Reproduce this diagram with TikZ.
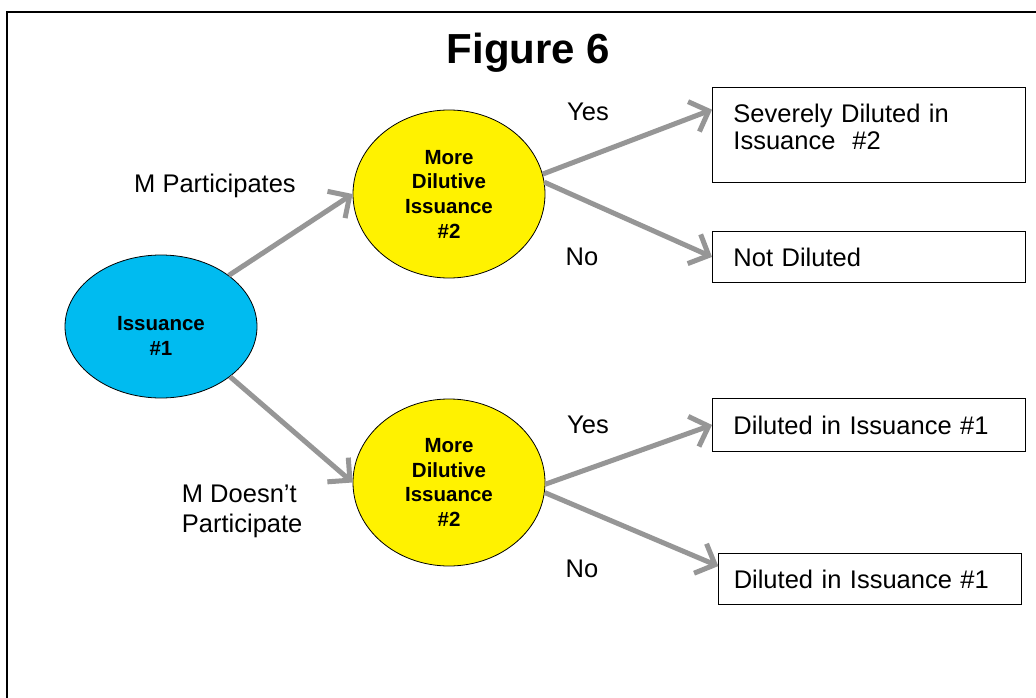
\documentclass[tikz,border=0pt]{standalone}
\usepackage{fontspec}
\setmainfont{Liberation Sans}
\usetikzlibrary{shapes.geometric,arrows.meta,positioning,calc}
\definecolor{issueblue}{RGB}{0,187,240}
\definecolor{arrowgray}{RGB}{150,150,150}

\tikzset{
  issue/.style={draw, ellipse, line width=0.8pt, minimum width=192pt, inner sep=0pt, align=center, font=\fontsize{20.5}{24.7}\selectfont\bfseries},
  outbox/.style={draw, rectangle, line width=0.9pt, anchor=north west, align=left, font=\fontsize{25.5}{27.5}\selectfont},
  flow/.style={draw=arrowgray, line width=5pt, -{Straight Barb[length=16pt,width=32pt]}},
  lbl/.style={font=\fontsize{25.5}{30}\selectfont}
}

\begin{document}
\begin{tikzpicture}[x=1pt, y=-1pt]
    \useasboundingbox (0,0) rectangle (1036,698);
    % Frame and title
    \draw[line width=2pt] (7,698) -- (7,12) -- (1036,12);
    \node[font=\fontsize{42}{48}\selectfont\bfseries] (title) at (528.5,53) {Figure 6};

    % Issuances
    \node[issue, fill=issueblue, minimum height=143pt] (iss1) at (161,326.5) {\rule{0pt}{33pt}Issuance\\\#1};
    \node[issue, fill=yellow, minimum height=168pt] (moreA) at (449,194) {More\\Dilutive\\Issuance\\\#2};
    \node[issue, fill=yellow, minimum height=167pt] (moreB) at (449,482.5) {More\\Dilutive\\Issuance\\\#2};

    % Outcomes
    \node[outbox, minimum width=313pt, minimum height=95pt, inner xsep=21pt, text width=271pt] (sevdil) at (712,86.7) {Severely Diluted in\\Issuance\ \ \#2\rule[-16pt]{0pt}{1pt}};
    \node[outbox, minimum width=313pt, minimum height=51.6pt, inner xsep=21pt, text width=271pt] (notdil) at (712,230.7) {Not Diluted};
    \node[outbox, minimum width=313pt, minimum height=52.4pt, inner xsep=21pt, text width=271pt] (dilA) at (712,398.3) {Diluted in Issuance \#1};
    \node[outbox, minimum width=302.4pt, minimum height=50.7pt, inner xsep=15pt, text width=272.4pt] (dilB) at (718.3,553.3) {Diluted in Issuance \#1};

    % Arrows
    \draw[flow] (iss1.37.5) -- (moreA.west);
    \draw[flow] (iss1.-36.7) -- (moreB.west);
    \draw[flow] (moreA.12) -- ([yshift=25pt]sevdil.west);
    \draw[flow] (moreA.7) -- (notdil.west);
    \draw[flow] (moreB.-1.5) -- (dilA.west);
    \draw[flow] (moreB.-6.5) -- ([yshift=13pt]dilB.west);

    % Labels
    \node[lbl] (mpart) at (215,186) {M Participates};
    \node[lbl, align=left, anchor=west] (mnot) at (178.4,511.7) {M Doesn’t\\Participate};
    \node[lbl] (yesA) at (588,112) {Yes};
    \node[lbl] (noA) at (582,257) {No};
    \node[lbl] (yesB) at (588,425) {Yes};
    \node[lbl] (noB) at (582,569) {No};
\end{tikzpicture}
\end{document}
